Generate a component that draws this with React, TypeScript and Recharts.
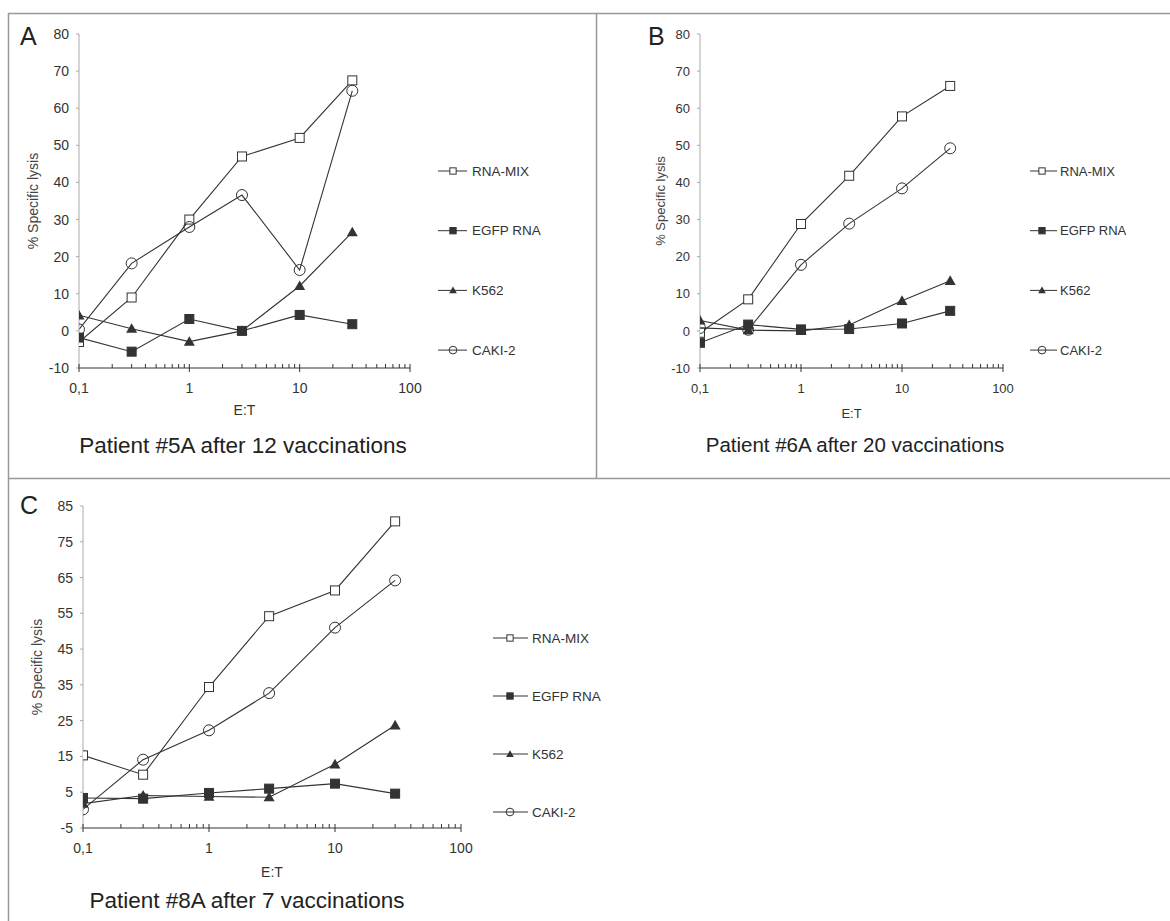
import React from "react";
import { LineChart, Line, XAxis, YAxis } from "recharts";

// E:T ratios used in every assay
const etRatios = [0.1, 0.3, 1, 3, 10, 30];

const seriesNames = ["RNA-MIX", "EGFP RNA", "K562", "CAKI-2"];
const seriesKeys = ["rnaMix", "egfp", "k562", "caki"];
const seriesShapes = ["openSquare", "square", "triangle", "openCircle"];

const majorTicks = [0.1, 1, 10, 100];
const majorTickLabels = ["0,1", "1", "10", "100"];
const minorTicks = [0.2, 0.3, 0.4, 0.5, 0.6, 0.7, 0.8, 0.9, 2, 3, 4, 5, 6, 7, 8, 9, 20, 30, 40, 50, 60, 70, 80, 90];

const yTicksAB = [-10, 0, 10, 20, 30, 40, 50, 60, 70, 80];
const yTicksC = [-5, 5, 15, 25, 35, 45, 55, 65, 75, 85];

// Patient #5A after 12 vaccinations
const p5RnaMix = [-3, 9, 30, 47, 52, 67.5];
const p5Egfp = [-1.8, -5.6, 3.2, 0, 4.3, 1.8];
const p5K562 = [4.2, 0.6, -2.9, 0, 12.1, 26.6];
const p5Caki = [0.4, 18.2, 28, 36.6, 16.4, 64.7];

// Patient #6A after 20 vaccinations
const p6RnaMix = [-0.5, 8.5, 28.8, 41.8, 57.8, 66];
const p6Egfp = [-3.2, 1.7, 0.4, 0.5, 2, 5.4];
const p6K562 = [2.8, 0.2, 0, 1.6, 8.1, 13.5];
const p6Caki = [0.8, 0.3, 17.8, 28.9, 38.4, 49.2];

// Patient #8A after 7 vaccinations
const p8RnaMix = [15.3, 9.9, 34.4, 54.2, 61.4, 80.7];
const p8Egfp = [3.4, 3.2, 4.8, 6, 7.4, 4.6];
const p8K562 = [1.8, 4.1, 3.8, 3.6, 12.8, 23.7];
const p8Caki = [0.2, 14.1, 22.3, 32.7, 51, 64.2];

const buildRows = (a: number[], b: number[], c: number[], d: number[]) =>
  etRatios.map((x, i) => ({ x, rnaMix: a[i], egfp: b[i], k562: c[i], caki: d[i] }));

const FONT = "'Liberation Sans', Arial, sans-serif";
const INK = "#333";

function Marker({ shape, cx, cy, s = 1 }: any) {
  if (cx == null || cy == null) return null;
  if (shape === "openSquare" || shape === "square") {
    const h = 4.5 * s;
    return (
      <rect x={cx - h} y={cy - h} width={2 * h} height={2 * h}
        fill={shape === "square" ? INK : "#fff"} stroke={INK} strokeWidth={1} />
    );
  }
  if (shape === "triangle") {
    const h = 5.5 * s;
    return <polygon points={`${cx},${cy - h} ${cx + h},${cy + h * 0.75} ${cx - h},${cy + h * 0.75}`} fill={INK} />;
  }
  return <circle cx={cx} cy={cy} r={5.5 * s} fill="none" stroke={INK} strokeWidth={1} />;
}

const XTick = ({ x, y, payload, fs }: any) => {
  const idx = majorTicks.indexOf(payload.value);
  const major = idx >= 0;
  return (
    <g>
      <line x1={x} x2={x} y1={major ? y + 4 : y} y2={y - 4} stroke={INK} strokeWidth={1} />
      {major && (
        <text x={x} y={y + 20} dy="0.35em" textAnchor="middle" fontSize={fs} fill={INK} fontFamily={FONT}>
          {majorTickLabels[idx]}
        </text>
      )}
    </g>
  );
};

const XTitle = ({ viewBox, off, fs }: any) => (
  <text x={viewBox.x + viewBox.width / 2} y={viewBox.y + off} dy="0.35em" textAnchor="middle"
    fontSize={fs} fill={INK} fontFamily={FONT}>E:T</text>
);

const YTitle = ({ viewBox, off, fs }: any) => {
  const x = viewBox.x + viewBox.width - off;
  const y = viewBox.y + viewBox.height / 2;
  return (
    <text x={x} y={y} dy="0.35em" textAnchor="middle" transform={`rotate(-90 ${x} ${y})`}
      fontSize={fs} fill="#444" fontFamily={FONT}>% Specific lysis</text>
  );
};

function Panel({ left, top, width, height, margin, data, yTicks, fs, yOff, xOff }: any) {
  return (
    <div style={{ position: "absolute", left, top }}>
      <LineChart width={width} height={height} data={data} margin={margin}>
        <XAxis type="number" dataKey="x" scale="log" domain={[0.1, 100]} allowDataOverflow
          ticks={[...majorTicks, ...minorTicks]} interval={0} tickSize={0} tickMargin={0}
          tickLine={false} axisLine={{ stroke: INK }} height={50}
          tick={<XTick fs={fs} />} label={<XTitle off={xOff} fs={fs} />} />
        <YAxis type="number" domain={[yTicks[0], yTicks[yTicks.length - 1]]} ticks={yTicks}
          interval={0} width={50} tickSize={3} tickMargin={7}
          axisLine={{ stroke: "#aaa" }} tickLine={{ stroke: "#aaa" }}
          tick={{ fontSize: fs, fill: INK, fontFamily: FONT }}
          label={<YTitle off={yOff} fs={fs} />} />
        {seriesKeys.map((k, i) => (
          <Line key={k} dataKey={k} name={seriesNames[i]} stroke={INK} strokeWidth={1.1}
            isAnimationActive={false}
            dot={(p: any) => <Marker key={`${k}-${p.index}`} shape={seriesShapes[i]} cx={p.cx} cy={p.cy} />} />
        ))}
      </LineChart>
    </div>
  );
}

function SeriesLegend({ left, top, gap, lineStart, markerAt, lineEnd, textAt, fs }: any) {
  return (
    <svg style={{ position: "absolute", left, top, overflow: "visible" }} width={200} height={gap * 3 + 20}>
      {seriesNames.map((n, i) => {
        const cy = 10 + i * gap;
        return (
          <g key={n}>
            <line x1={lineStart} x2={lineEnd} y1={cy} y2={cy} stroke={INK} strokeWidth={1} />
            <Marker shape={seriesShapes[i]} cx={markerAt} cy={cy} s={0.7} />
            <text x={textAt} y={cy} dy="0.35em" fontSize={fs} fill={INK} fontFamily={FONT}>{n}</text>
          </g>
        );
      })}
    </svg>
  );
}

export default function App() {
  return (
    <div style={{ position: "absolute", left: 0, top: 0, width: 1170, height: 921, overflow: "hidden", background: "#fff" }}>
      <svg style={{ position: "absolute", left: 0, top: 0 }} width={1170} height={921}>
        <line x1={8} x2={1170} y1={13.5} y2={13.5} stroke="#999" strokeWidth={1.5} />
        <line x1={8.5} x2={8.5} y1={13} y2={921} stroke="#999" strokeWidth={1.5} />
        <line x1={596.5} x2={596.5} y1={13} y2={478} stroke="#999" strokeWidth={1.5} />
        <line x1={8} x2={1170} y1={478.5} y2={478.5} stroke="#999" strokeWidth={1.5} />
        <g fontFamily={FONT} fill="#222">
          <text x={20} y={45} fontSize={25}>A</text>
          <text x={648} y={45} fontSize={25}>B</text>
          <text x={20} y={514} fontSize={25}>C</text>
          <text x={243} y={453} fontSize={22.5} textAnchor="middle">Patient #5A after 12 vaccinations</text>
          <text x={855} y={452} fontSize={20.5} textAnchor="middle">Patient #6A after 20 vaccinations</text>
          <text x={247} y={908} fontSize={22.5} textAnchor="middle">Patient #8A after 7 vaccinations</text>
        </g>
      </svg>

      <Panel left={0} top={0} width={596} height={440}
        margin={{ top: 34, right: 186, bottom: 22, left: 29 }}
        data={buildRows(p5RnaMix, p5Egfp, p5K562, p5Caki)} yTicks={yTicksAB} fs={14} yOff={46} xOff={42} />
      <Panel left={600} top={0} width={570} height={440}
        margin={{ top: 34, right: 167, bottom: 22, left: 50 }}
        data={buildRows(p6RnaMix, p6Egfp, p6K562, p6Caki)} yTicks={yTicksAB} fs={13} yOff={40} xOff={45} />
      <Panel left={0} top={478} width={600} height={443}
        margin={{ top: 28, right: 139, bottom: 43, left: 33 }}
        data={buildRows(p8RnaMix, p8Egfp, p8K562, p8Caki)} yTicks={yTicksC} fs={14} yOff={46} xOff={44} />

      <SeriesLegend left={438} top={161} gap={59.7} lineStart={0} markerAt={15} lineEnd={29} textAt={34} fs={13.5} />
      <SeriesLegend left={1030} top={161} gap={59.7} lineStart={0} markerAt={12} lineEnd={27} textAt={30} fs={13} />
      <SeriesLegend left={493} top={628} gap={58} lineStart={0} markerAt={17} lineEnd={35} textAt={39} fs={13.5} />
    </div>
  );
}
